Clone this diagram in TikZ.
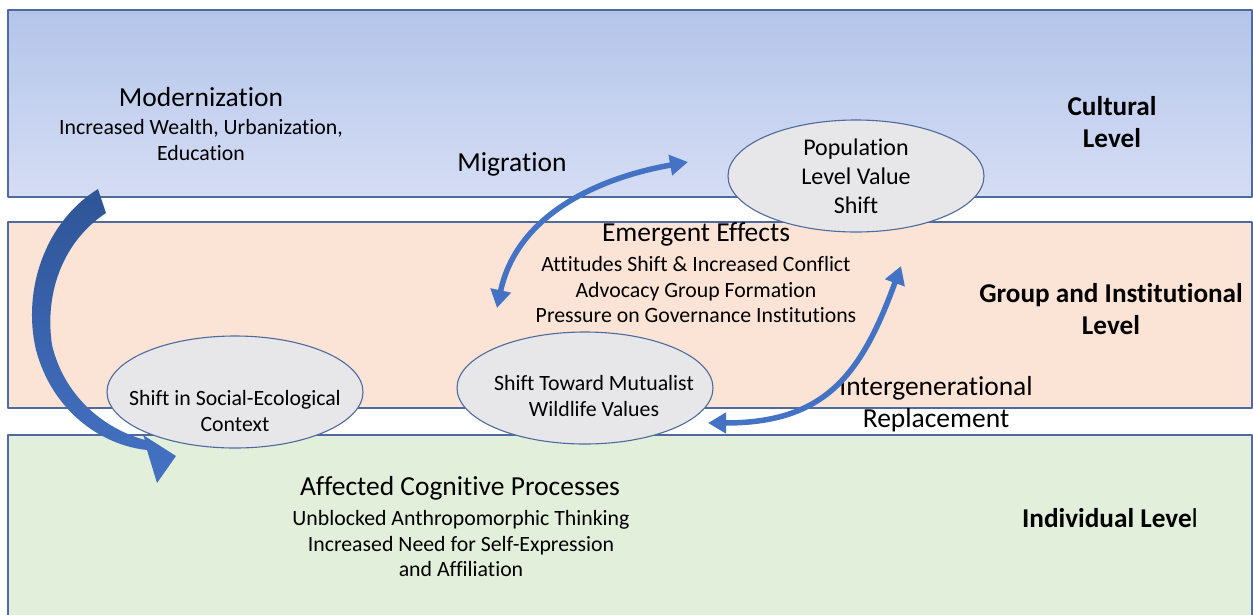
\documentclass[tikz,border=0pt]{standalone}
\usepackage{fontspec}
\setmainfont{Carlito}[Ligatures=NoCommon]
\usetikzlibrary{arrows.meta,shapes.geometric,calc}
\definecolor{culttop}{HTML}{B4C5EA}
\definecolor{cultbot}{HTML}{D5DDF4}
\definecolor{groupfill}{HTML}{FBE4D6}
\definecolor{indivfill}{HTML}{E2EFDA}
\definecolor{bandline}{HTML}{4E6A9E}
\definecolor{bubfill}{HTML}{E7E6E8}
\definecolor{flowblue}{HTML}{4472C4}
\definecolor{flowdark}{HTML}{2F5597}

\begin{document}
\begin{tikzpicture}[x=1pt,y=1pt,line join=round]
	\tikzset{band/.style={draw=bandline,line width=1.2pt},
		bubble/.style={ellipse,draw=bandline,fill=bubfill,line width=1.1pt,minimum width=256pt,minimum height=112pt,inner sep=0pt},
		titletxt/.style={font=\fontsize{27.5}{32.5}\selectfont,align=center},
		subtxt/.style={font=\fontsize{21.8}{25.5}\selectfont,align=center},
		leveltxt/.style={font=\fontsize{27.2}{32}\selectfont\bfseries,align=center},
		cycarrow/.style={flowblue,line width=5.5pt,{Triangle[width=20pt,length=18pt]}-{Triangle[width=20pt,length=18pt]}}}
	\useasboundingbox (0,0) rectangle (1253,-614);
	% the three levels
	\shade[top color=culttop,bottom color=cultbot] (8,-10) rectangle (1252,-197);
	\draw[band] (8,-10) rectangle (1252,-197);
	\draw[band,fill=groupfill] (8,-222) rectangle (1252,-408);
	\draw[band,fill=indivfill] (8,-435) rectangle (1252,-640);
	% value shifts
	\node[bubble,font=\fontsize{24}{29}\selectfont,align=center] (popshift) at (856,-176) {Population\\Level Value\\Shift};
	\node[bubble] (socialctx) at (235,-392) {};
	\node[subtxt] (socialtxt) at ($(socialctx)+(0,-19)$) {Shift in Social-Ecological\\Context};
	\node[bubble] (mutual) at (585,-388) {};
	\node[subtxt] (mutualtxt) at ($(mutual)+(9,-8)$) {Shift Toward Mutualist\\Wildlife Values};
	% texts
	\node[titletxt] (modern) at (201,-97) {Modernization};
	\node[subtxt] (moderndet) at (201,-140) {Increased Wealth, Urbanization,\\Education};
	\node[titletxt] (migr) at (512,-164) {Migration};
	\node[titletxt] (emerge) at (696,-234) {Emergent Effects};
	\node[subtxt] (emergedet) at (696,-290) {Attitudes Shift \& Increased Conflict\\Advocacy Group Formation\\Pressure on Governance Institutions};
	\node[titletxt] (intergen) at (936,-404) {Intergenerational\\Replacement};
	\node[titletxt] (affect) at (460,-488) {Affected Cognitive Processes};
	\node[subtxt] (affectdet) at (461,-544) {Unblocked Anthropomorphic Thinking\\Increased Need for Self-Expression\\and Affiliation};
	\node[leveltxt] (cultlvl) at (1112,-122) {Cultural\\Level};
	\node[leveltxt] (grplvl) at (1111,-309) {Group and Institutional\\Level};
	\node[leveltxt] (indlvl) at (1110,-518) {Individual Leve{\mdseries l}};
	% arrows
	\shade[top color=flowdark,bottom color=flowblue] (98,-189) .. controls (45,-222) and (22,-290) .. (36,-350) .. controls (52,-410) and (100,-445) .. (147,-450) -- (157,-483) -- (176,-456) -- (143,-435) -- (145,-440) .. controls (102,-428) and (64,-395) .. (52,-345) .. controls (44,-290) and (65,-240) .. (106,-213) -- cycle;
	\coordinate (miglo) at (497,-308);
	\coordinate (mighi) at (688,-162);
	\draw[cycarrow] (miglo) to[out=78,in=190] (mighi);
	\coordinate (genlo) at (708,-423);
	\coordinate (genhi) at (901,-266);
	\draw[cycarrow] (genlo) to[out=0,in=250,looseness=1.2] (genhi);
\end{tikzpicture}
\end{document}
